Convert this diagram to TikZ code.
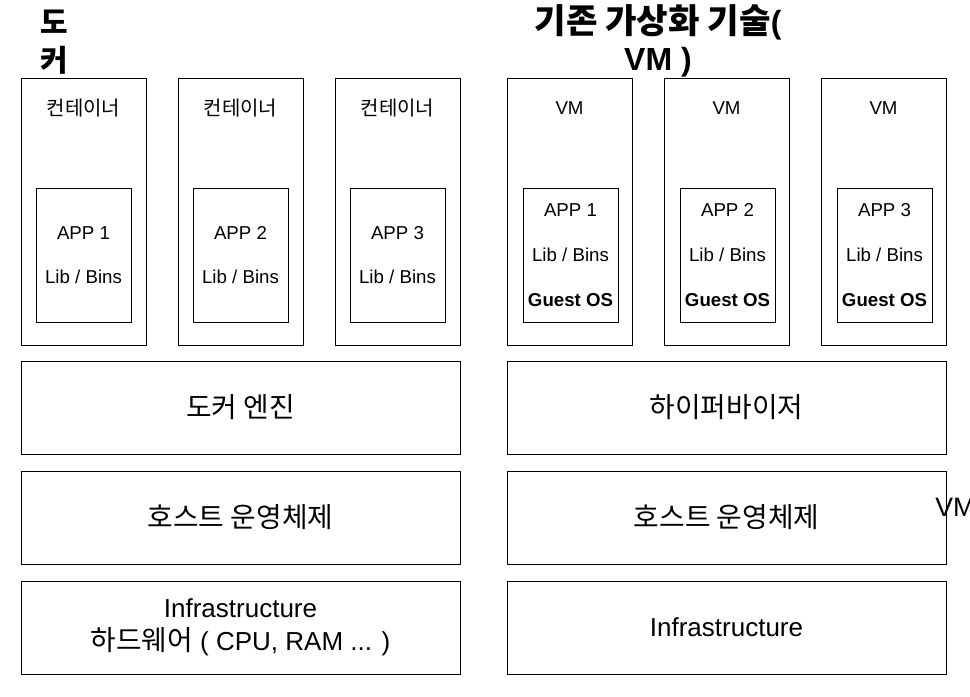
\documentclass[tikz,border=0pt]{standalone}
\usepackage{fontspec}
\usepackage{tikz}
\usetikzlibrary{positioning}
\setmainfont{Liberation Sans}
\newfontfamily\kr[Scale=1.07]{Noto Sans CJK KR}
\tikzset{
  title/.style={
    align=center, inner sep=0pt,
    font=\fontsize{22}{28}\selectfont\bfseries,
  },
  outerbox/.style={
    rectangle, draw=black, line width=0.75pt,
    minimum width=93.75pt, minimum height=200.25pt,
  },
  innerbox/.style={
    rectangle, draw=black, line width=0.75pt,
    minimum width=71.25pt, minimum height=100.5pt,
    align=center, inner sep=0pt,
    font=\fontsize{14}{33.5}\selectfont,
  },
  boxlabel/.style={inner sep=0pt, font=\fontsize{14}{16}\selectfont},
  layer/.style={
    rectangle, draw=black, line width=0.75pt,
    minimum width=329.25pt, minimum height=69.75pt,
    align=center, text centered,
    font=\fontsize{19.5}{24.75}\selectfont,
  },
}
\begin{document}
\begin{tikzpicture}[x=0.75pt, y=-0.75pt]
  \useasboundingbox (0,0) rectangle (970,696);

  % titles
  \node[title, font=\fontsize{21}{28}\selectfont\bfseries] (dockertitle) at (54,42) {\kr 도\\\kr 커};
  \node[title, font=\fontsize{24}{28}\selectfont\bfseries] (vmtitle) at (658,41) {{\kr 기존 가상화 기술}(\\VM )};

  % docker side
  \node[outerbox] (c1) at (83.5,211.5) {};
  \node[outerbox] (c2) at (240.5,211.5) {};
  \node[outerbox] (c3) at (397.5,211.5) {};
  \node[boxlabel] (c1label) at (83.5,108) {\kr 컨테이너};
  \node[boxlabel] (c2label) at (240.5,108) {\kr 컨테이너};
  \node[boxlabel] (c3label) at (397.5,108) {\kr 컨테이너};
  \node[innerbox] (app1) at (83.5,255) {APP 1\\Lib / Bins};
  \node[innerbox] (app2) at (240.5,255) {APP 2\\Lib / Bins};
  \node[innerbox] (app3) at (397.5,255) {APP 3\\Lib / Bins};

  \node[layer] (engine) at (240.5,407.5) {\kr 도커 엔진};
  \node[layer] (hostl) at (240.5,517.5) {\kr 호스트 운영체제};
  \node[layer] (infral) at (240.5,627.5) {Infrastructure\\{\kr 하드웨어} ( CPU, RAM ... )};

  % vm side
  \node[outerbox] (v1) at (569.5,211.5) {};
  \node[outerbox] (v2) at (726.5,211.5) {};
  \node[outerbox] (v3) at (883.5,211.5) {};
  \node[boxlabel] (v1label) at (569.5,108) {VM};
  \node[boxlabel] (v2label) at (726.5,108) {VM};
  \node[boxlabel] (v3label) at (883.5,108) {VM};
  \node[innerbox] (guest1) at (570.5,255) {APP 1\\Lib / Bins\\\textbf{Guest OS}};
  \node[innerbox] (guest2) at (727.5,255) {APP 2\\Lib / Bins\\\textbf{Guest OS}};
  \node[innerbox] (guest3) at (884.5,255) {APP 3\\Lib / Bins\\\textbf{Guest OS}};

  \node[layer] (hyper) at (726.5,407.5) {\kr 하이퍼바이저};
  \node[layer] (hostr) at (726.5,517.5) {\kr 호스트 운영체제};
  \node[layer] (infrar) at (726.5,627.5) {Infrastructure};

  \node[anchor=west, inner sep=0pt, font=\fontsize{20}{24}\selectfont] (vmside) at (935,507) {VM};

\end{tikzpicture}
\end{document}
